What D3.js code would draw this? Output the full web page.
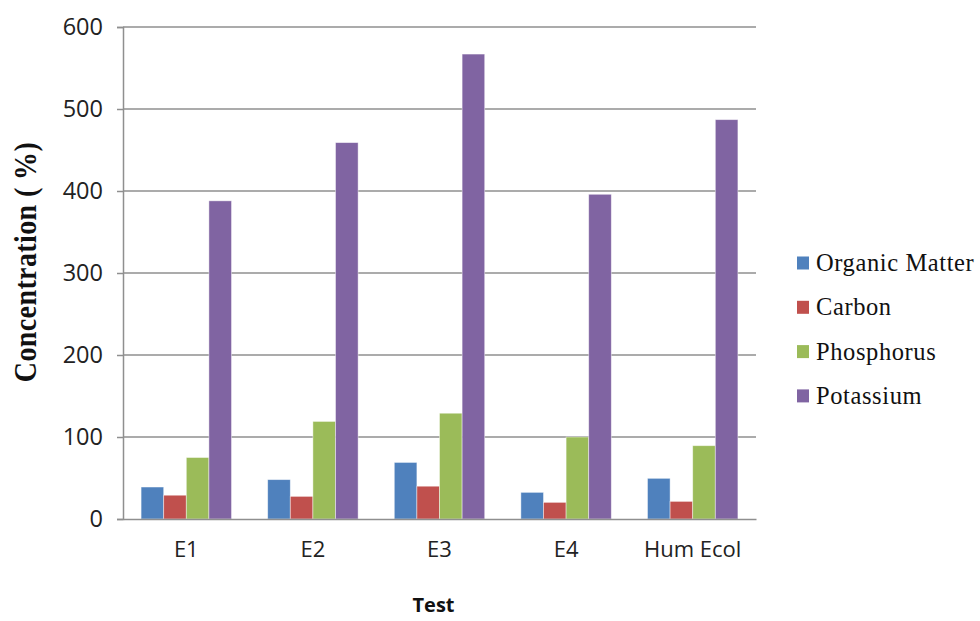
<!DOCTYPE html>
<html>
<head>
<meta charset="utf-8">
<script src="https://cdn.jsdelivr.net/npm/d3@7"></script>
<style>
  html, body { margin: 0; padding: 0; background: #fff; }
  svg { display: block; }
</style>
</head>
<body>
<svg id="chart" width="980" height="621"></svg>
<script>
const categories = ["E1", "E2", "E3", "E4", "Hum Ecol"];
const seriesNames = ["Organic Matter", "Carbon", "Phosphorus", "Potassium"];
const organicMatter = [39, 48, 69, 32.5, 49.6];
const carbon = [29, 27.6, 40, 20.3, 21.5];
const phosphorus = [75, 119, 129, 100, 89.4];
const potassium = [388, 459, 567, 396, 487];
const yTicks = [0, 100, 200, 300, 400, 500, 600];
const colors = ["#4F81BD", "#C0504D", "#9BBB59", "#8064A2"];

const seriesValues = [organicMatter, carbon, phosphorus, potassium];

const svg = d3.select("#chart");
const plotLeft = 123, plotRight = 756, plotTop = 27, plotBottom = 519;

const x0 = d3.scaleBand().domain(categories).range([plotLeft, plotRight]).paddingInner(0).paddingOuter(0);
const x1 = d3.scaleBand().domain(seriesNames).range([0, x0.bandwidth()]).paddingInner(0).paddingOuter(0.8);
const y = d3.scaleLinear().domain([0, 600]).range([plotBottom, plotTop]);
const color = d3.scaleOrdinal().domain(seriesNames).range(colors);

const gridColor = "#8f8f8f";

// gridlines
svg.append("g")
  .selectAll("line")
  .data(yTicks.filter(t => t > 0))
  .join("line")
  .attr("x1", plotLeft).attr("x2", plotRight)
  .attr("y1", d => y(d)).attr("y2", d => y(d))
  .attr("stroke", gridColor).attr("stroke-width", 1.5);

// y axis
const yAxis = d3.axisLeft(y).tickValues(yTicks).tickSize(6).tickPadding(14).tickFormat(d3.format("d"));
const gy = svg.append("g").attr("transform", `translate(${plotLeft},0)`).call(yAxis);
gy.select(".domain").attr("stroke", gridColor).attr("stroke-width", 1.5);
gy.selectAll(".tick line").attr("stroke", gridColor).attr("stroke-width", 1.5);
gy.selectAll(".tick text")
  .attr("font-family", "'Open Sans', sans-serif")
  .attr("font-size", 23.5)
  .attr("fill", "#222")
  .attr("dy", "0.3em");

// bars
const rows = categories.map((c, i) => ({cat: c, vals: seriesNames.map((s, j) => ({s, v: seriesValues[j][i]}))}));
svg.append("g")
  .selectAll("g")
  .data(rows)
  .join("g")
  .attr("transform", d => `translate(${x0(d.cat)},0)`)
  .selectAll("rect")
  .data(d => d.vals)
  .join("rect")
  .attr("x", d => x1(d.s))
  .attr("width", x1.bandwidth())
  .attr("y", d => y(d.v))
  .attr("height", d => y(0) - y(d.v))
  .attr("fill", d => color(d.s))
  .attr("stroke", "rgba(255,255,255,0.55)")
  .attr("stroke-width", 0.8);

// x axis
const xAxis = d3.axisBottom(x0).tickSize(0).tickPadding(22);
const gx = svg.append("g").attr("transform", `translate(0,${plotBottom})`).call(xAxis);
gx.select(".domain").attr("stroke", gridColor).attr("stroke-width", 1.5);
gx.selectAll(".tick text")
  .attr("font-family", "'Open Sans', sans-serif")
  .attr("font-size", 22)
  .attr("fill", "#222");

// axis titles
svg.append("text")
  .attr("x", (plotLeft + plotRight) / 2 - 6)
  .attr("y", 612)
  .attr("text-anchor", "middle")
  .attr("font-family", "'Open Sans', sans-serif")
  .attr("font-weight", "bold")
  .attr("font-size", 20)
  .attr("fill", "#111")
  .text("Test");

svg.append("text")
  .attr("transform", "translate(36,262) rotate(-90) scale(1,1.15)")
  .attr("text-anchor", "middle")
  .attr("font-family", "'Liberation Serif', 'Times New Roman', serif")
  .attr("font-weight", "bold")
  .attr("font-size", 28)
  .attr("letter-spacing", 0.4)
  .attr("fill", "#111")
  .text("Concentration ( %)");

// legend
const legend = svg.append("g")
  .selectAll("g")
  .data(seriesNames)
  .join("g")
  .attr("transform", (d, i) => `translate(797,${263 + i * 44.3})`);
legend.append("rect")
  .attr("x", 0).attr("y", -6.5)
  .attr("width", 12).attr("height", 13)
  .attr("fill", d => color(d));
legend.append("text")
  .attr("x", 19).attr("y", 0)
  .attr("dy", "0.33em")
  .attr("font-family", "'Liberation Serif', 'Times New Roman', serif")
  .attr("font-size", 24.5)
  .attr("letter-spacing", 0.6)
  .attr("fill", "#111")
  .text(d => d);
</script>
</body>
</html>
